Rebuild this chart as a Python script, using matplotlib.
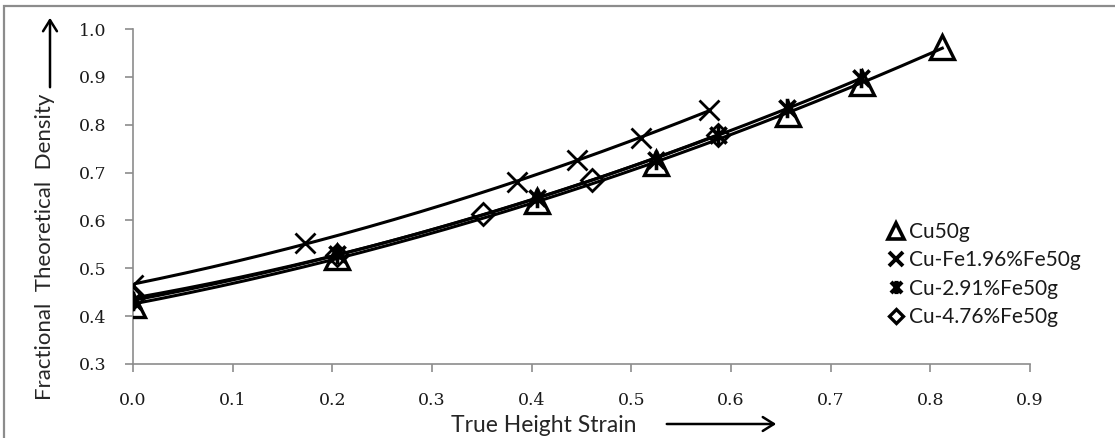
import numpy as np
import matplotlib
matplotlib.use("Agg")
import matplotlib.pyplot as plt
from matplotlib.path import Path
from matplotlib.patches import Rectangle, FancyArrowPatch
from matplotlib.lines import Line2D

# ---- data ----
cu_x = [0.0, 0.205, 0.405, 0.525, 0.657, 0.731, 0.812]
cu_y = [0.424, 0.523, 0.640, 0.721, 0.823, 0.887, 0.962]

fe196_x = [0.0, 0.173, 0.385, 0.445, 0.510, 0.578]
fe196_y = [0.466, 0.553, 0.680, 0.726, 0.772, 0.831]

fe291_x = [0.0, 0.205, 0.405, 0.525, 0.587, 0.656, 0.730]
fe291_y = [0.432, 0.530, 0.647, 0.727, 0.779, 0.834, 0.897]

fe476_x = [0.0, 0.205, 0.351, 0.461, 0.587]
fe476_y = [0.438, 0.527, 0.613, 0.684, 0.779]

labels = ["Cu50g", "Cu-Fe1.96%Fe50g", "Cu-2.91%Fe50g", "Cu-4.76%Fe50g"]
x_ticks = [0.0, 0.1, 0.2, 0.3, 0.4, 0.5, 0.6, 0.7, 0.8, 0.9]
y_ticks = [0.3, 0.4, 0.5, 0.6, 0.7, 0.8, 0.9, 1.0]

# ---- figure ----
W, H = 1115, 438
fig = plt.figure(figsize=(W / 100, H / 100), dpi=100)
ax = fig.add_axes([133 / W, 1 - 364 / H, (1030 - 133) / W, (364 - 29) / H])

# asterisk-like marker: X with vertical bar
ast = Path([(-1, -1), (1, 1), (-1, 1), (1, -1), (0, -1.2), (0, 1.2)],
           [Path.MOVETO, Path.LINETO, Path.MOVETO, Path.LINETO, Path.MOVETO, Path.LINETO])

series = [
    (cu_x, cu_y, dict(marker="^", ms=17, mew=2.4, mfc="none")),
    (fe196_x, fe196_y, dict(marker="x", ms=15, mew=2.0)),
    (fe291_x, fe291_y, dict(marker=ast, ms=14, mew=2.6)),
    (fe476_x, fe476_y, dict(marker="D", ms=11, mew=2.0, mfc="none")),
]

for xs, ys, mk in series:
    xs = np.asarray(xs); ys = np.asarray(ys)
    c = np.polyfit(xs, ys, 2)
    xx = np.linspace(xs.min(), xs.max(), 200)
    ax.plot(xx, np.polyval(c, xx), color="black", lw=2.2, zorder=2)
    ax.plot(xs, ys, linestyle="none", color="black", mec="black", zorder=3, **mk)

ax.set_xlim(0, 0.9)
ax.set_ylim(0.3, 1.0)
tick_font = dict(fontsize=12.5, fontfamily=["DejaVu Serif"], color="#1a1a1a")
ax.set_xticks(x_ticks)
ax.set_yticks(y_ticks)
ax.set_xticklabels([f"{v:.1f}" for v in x_ticks], **tick_font)
ax.set_yticklabels([f"{v:.1f}" for v in y_ticks], **tick_font)

for s in ["top", "right"]:
    ax.spines[s].set_visible(False)
for s in ["left", "bottom"]:
    ax.spines[s].set_color("#8c8c8c")
    ax.spines[s].set_linewidth(1.2)
ax.tick_params(direction="out", length=6, width=1.2, color="#8c8c8c")
ax.tick_params(axis="y", pad=13)
ax.tick_params(axis="x", pad=14)

# legend (markers only)
handles = [
    Line2D([], [], linestyle="none", marker="^", ms=11, mew=2.6, mfc="none", mec="black"),
    Line2D([], [], linestyle="none", marker="x", ms=10, mew=2.8, mec="black"),
    Line2D([], [], linestyle="none", marker=ast, ms=9.5, mew=3.0, mec="black"),
    Line2D([], [], linestyle="none", marker="D", ms=7.5, mew=2.4, mfc="none", mec="black"),
]
leg = fig.legend(handles, labels, loc="upper left",
                 bbox_to_anchor=(889 / W, 1 - 222 / H), frameon=False,
                 handlelength=0.7, handletextpad=0.25, labelspacing=0.4,
                 borderpad=0, borderaxespad=0,
                 prop={"family": ["Lato", "DejaVu Sans"], "size": 15})
for t in leg.get_texts():
    t.set_color("#1a1a1a")

# axis titles
fig.text(45 / W, 1 - 247 / H, "Fractional  Theoretical  Density", rotation=90,
         ha="center", va="center", fontsize=16, family=["Lato", "DejaVu Sans"],
         color="#262626")
fig.text(544 / W, 1 - 425 / H, "True Height Strain", ha="center", va="center",
         fontsize=16.5, family=["Lato", "DejaVu Sans"], color="#262626")

# arrows
fig.patches.append(FancyArrowPatch((50 / W, 1 - 90 / H), (50 / W, 1 - 15 / H),
                                   transform=fig.transFigure, arrowstyle="->,head_length=8,head_width=5",
                                   lw=1.8, color="black", mutation_scale=1))
fig.patches.append(FancyArrowPatch((664 / W, 1 - 424 / H), (779 / W, 1 - 424 / H),
                                   transform=fig.transFigure, arrowstyle="->,head_length=8,head_width=5",
                                   lw=1.8, color="black", mutation_scale=1))

# outer frame
fig.patches.append(Rectangle((4 / W, -0.2), 1.3, 1.2 - 6 / H,
                             transform=fig.transFigure, fill=False,
                             edgecolor="#8c8c8c", lw=1.6))

fig.savefig("out.png", dpi=100)
